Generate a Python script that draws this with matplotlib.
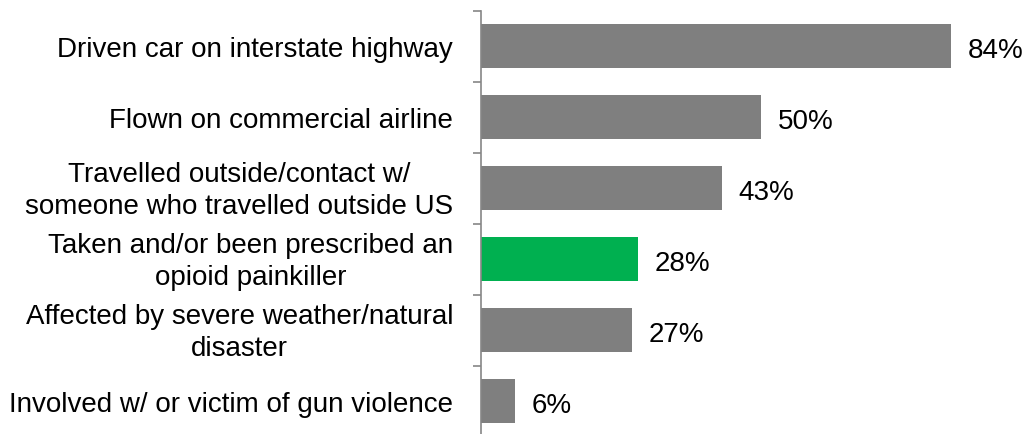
import matplotlib
matplotlib.use("Agg")
import matplotlib.pyplot as plt
from matplotlib.font_manager import FontProperties
from matplotlib.transforms import ScaledTranslation, blended_transform_factory
import numpy as np

categories = [
    "Driven car on interstate highway",
    "Flown on commercial airline",
    "Travelled outside/contact w/\nsomeone who travelled outside US",
    "Taken and/or been prescribed an\nopioid painkiller",
    "Affected by severe weather/natural\ndisaster",
    "Involved w/ or victim of gun violence",
]
values = [84, 50, 43, 28, 27, 6]
value_labels = ["84%", "50%", "43%", "28%", "27%", "6%"]
highlight = "Taken and/or been prescribed an\nopioid painkiller"

GRAY = "#7F7F7F"
GREEN = "#00B050"
FAMILY = ['Liberation Sans', 'DejaVu Sans']
FS = 20

plt.rcParams['font.family'] = FAMILY

W, H = 1028, 435
dpi = 100
fig = plt.figure(figsize=(W / dpi, H / dpi), dpi=dpi)
ax_left_px = 481
ax_top_px = 11.5
ax_bottom_px = 437.5
ax = fig.add_axes([ax_left_px / W, (H - ax_bottom_px) / H,
                   1 - ax_left_px / W, (ax_bottom_px - ax_top_px) / H])

px_per_pct = (951 - 481) / 84
xmax = (W - ax_left_px) / px_per_pct
n = len(categories)
y = np.arange(n)
colors = [GREEN if c == highlight else GRAY for c in categories]
ax.barh(y, values, height=0.62, color=colors)
ax.set_xlim(0, xmax)
ax.set_ylim(n - 0.5, -0.5)

def px_offset(dx, dy):
    # dx right, dy down, in pixels
    return ScaledTranslation(dx / dpi, -dy / dpi, fig.dpi_scale_trans)

# value labels
for yi, v, lab in zip(y, values, value_labels):
    ax.text(v, yi, lab, va="baseline", ha="left", fontsize=FS, color="#000000",
            transform=ax.transData + px_offset(17, 11.0))

# category labels (right aligned block, lines centered within block)
ax.set_yticks(y)
ax.set_yticklabels([""] * n)
ax.tick_params(axis="y", which="major", length=0)
ax.set_yticks(np.arange(-0.5, n, 1.0), minor=True)
ax.tick_params(axis="y", which="minor", length=6, width=1.2, color="#868686", direction="out")

fig.canvas.draw()
renderer = fig.canvas.get_renderer()
fp = FontProperties(family=FAMILY, size=FS)
base = blended_transform_factory(ax.transAxes, ax.transData)
right_gap = 28
for yi, cat in zip(y, categories):
    lines = cat.split("\n")
    offsets = [10.3] if len(lines) == 1 else [-7.0, 24.8]
    widths = [renderer.get_text_width_height_descent(l, fp, ismath=False)[0] for l in lines]
    bw = max(widths)
    for line, off, w in zip(lines, offsets, widths):
        xoff = -right_gap - (bw - w) / 2
        ax.text(0, yi, line, ha="right", va="baseline", fontsize=FS, color="#000000",
                transform=base + px_offset(xoff, off))

ax.set_xticks([])
for s in ["top", "right", "bottom"]:
    ax.spines[s].set_visible(False)
ax.spines["left"].set_color("#868686")
ax.spines["left"].set_linewidth(1.2)

fig.savefig("out.png", dpi=dpi)
